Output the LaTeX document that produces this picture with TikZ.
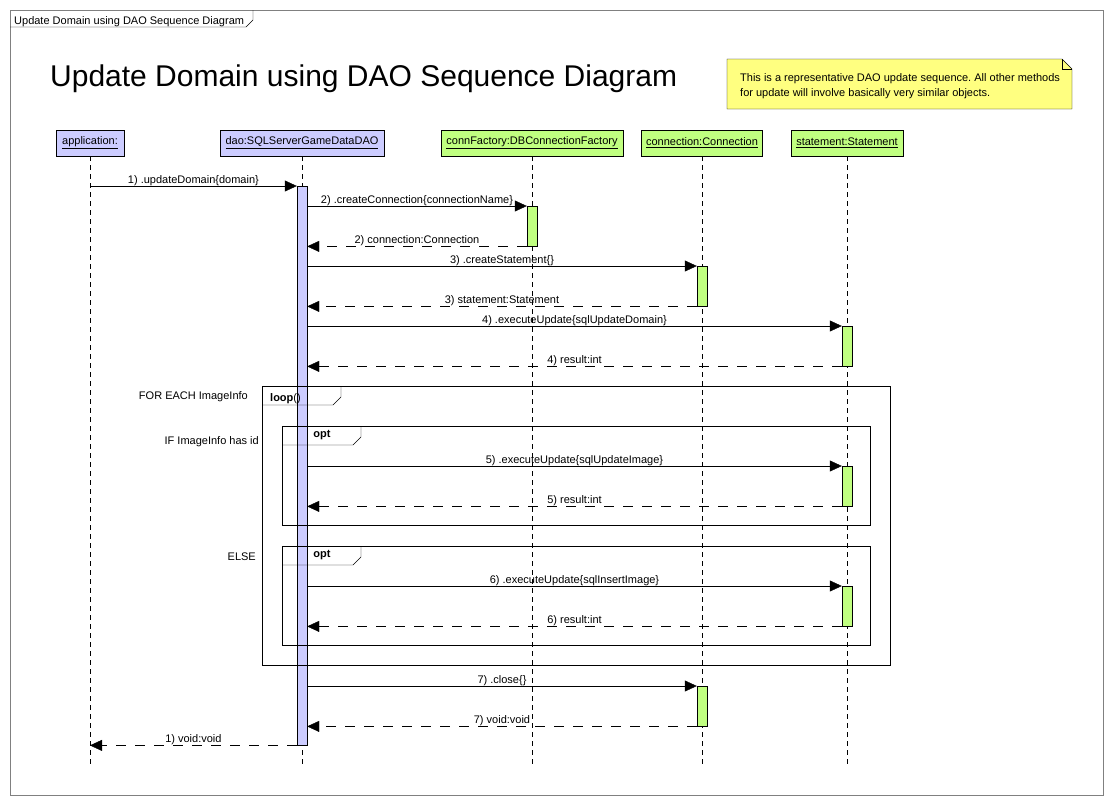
\documentclass[tikz,border=0pt]{standalone}
\usepackage{fontspec}
\setmainfont{Liberation Sans}
\usetikzlibrary{arrows.meta}
\definecolor{bleuobj}{RGB}{204,204,255}
\definecolor{vertobj}{RGB}{192,255,128}
\definecolor{jaunenote}{RGB}{255,255,128}
\definecolor{griscadre}{RGB}{128,128,128}

\begin{document}
\begin{tikzpicture}[x=1pt, y=-1pt]
\tikzset{objet/.style={draw, minimum height=26pt, inner sep=0pt, font=\fontsize{11}{13}\selectfont},
  vie/.style={dash pattern=on 5pt off 4pt},
  actif/.style={draw, anchor=north, minimum width=10pt, inner sep=0pt},
  appel/.style={-{Triangle[length=12pt,width=11pt]}},
  retour/.style={-{Triangle[length=12pt,width=11pt]}, dash pattern=on 10pt off 9pt},
  msg/.style={anchor=base, yshift=3pt, inner sep=0pt, font=\fontsize{11}{13}\selectfont},
  garde/.style={anchor=east, inner sep=0pt, font=\fontsize{11}{13}\selectfont},
  texte/.style={anchor=base west, inner sep=0pt, font=\fontsize{11}{13}\selectfont}}
\fill[white] (0,0) rectangle (1113,806);
\useasboundingbox (0,0) rectangle (1113,806);
% cadre du diagramme
\draw[griscadre] (10,10) rectangle (1103,795);
\draw (10,27) -- (246,27) -- (253,20) -- (253,10);
\node[texte] (onglet) at (14,24) {Update Domain using DAO Sequence Diagram};
\node[anchor=base west, inner sep=0pt, font=\fontsize{30}{36}\selectfont] (titre) at (50,86) {Update Domain using DAO Sequence Diagram};
% note
\filldraw[fill=jaunenote] (727,59) -- (1062,59) -- (1072,69) -- (1072,109) -- (727,109) -- cycle;
\draw (1062,59) -- (1062,69) -- (1072,69);
\node[anchor=base west, align=left, inner sep=0pt, font=\fontsize{11}{15}\selectfont] (note) at (740,96) {This is a representative DAO update sequence.\ All other methods\\for update will involve basically very similar objects.};
% objets et lignes de vie
\node[objet, fill=bleuobj, minimum width=68pt] (app) at (90,143) {\underline{application:}};
\node[objet, fill=bleuobj, minimum width=164pt] (dao) at (302,143) {\underline{dao:SQLServerGameDataDAO}};
\node[objet, fill=vertobj, minimum width=182pt] (fab) at (532,143) {\underline{connFactory:DBConnectionFactory}};
\node[objet, fill=vertobj, minimum width=121pt] (cnx) at (702,143) {\underline{connection:Connection}};
\node[objet, fill=vertobj, minimum width=112pt] (req) at (847,143) {\underline{statement:Statement}};
\coordinate (appfin) at (90,765);
\coordinate (daofin) at (302,765);
\coordinate (fabfin) at (532,765);
\coordinate (cnxfin) at (702,765);
\coordinate (reqfin) at (847,765);
\draw[vie] (app) -- (appfin);
\draw[vie] (dao) -- (daofin);
\draw[vie] (fab) -- (fabfin);
\draw[vie] (cnx) -- (cnxfin);
\draw[vie] (req) -- (reqfin);
% activations
\node[actif, fill=bleuobj, minimum height=559pt] (daoact) at (302,186) {};
\node[actif, fill=vertobj, minimum height=40pt] (fabact) at (532,206) {};
\node[actif, fill=vertobj, minimum height=40pt] (cnxact1) at (702,266) {};
\node[actif, fill=vertobj, minimum height=40pt] (reqact1) at (847,326) {};
\node[actif, fill=vertobj, minimum height=40pt] (reqact2) at (847,466) {};
\node[actif, fill=vertobj, minimum height=40pt] (reqact3) at (847,586) {};
\node[actif, fill=vertobj, minimum height=40pt] (cnxact2) at (702,686) {};
% fragments
\draw (262,386) rectangle (890,665);
\draw (262,405) -- (333,405) -- (341,397) -- (341,386);
\node[texte] (boucle) at (270,401) {\textbf{loop}()};
\node[garde] (pourchaque) at (248,397) {FOR EACH ImageInfo};
\draw (282,426) rectangle (870,525);
\draw (282,445) -- (353,445) -- (361,437) -- (361,426);
\node[texte, anchor=base] (opt1) at (322,437) {\textbf{opt}};
\node[garde] (si) at (259,442) {IF ImageInfo has id};
\draw (282,546) rectangle (870,645);
\draw (282,565) -- (353,565) -- (361,557) -- (361,546);
\node[texte, anchor=base] (opt2) at (322,557) {\textbf{opt}};
\node[garde] (sinon) at (256,557) {ELSE};
% messages
\draw[appel] (app.south |- daoact.north) -- (daoact.north west) node[msg, midway] {1) .updateDomain\{domain\}};
\draw[appel] (daoact.east |- fabact.north) -- (fabact.north west) node[msg, midway] {2) .createConnection\{connectionName\}};
\draw[retour] (fabact.south west) -- (daoact.east |- fabact.south) node[msg, midway] {2) connection:Connection};
\draw[appel] (daoact.east |- cnxact1.north) -- (cnxact1.north west) node[msg, midway] {3) .createStatement\{\}};
\draw[retour] (cnxact1.south west) -- (daoact.east |- cnxact1.south) node[msg, midway] {3) statement:Statement};
\draw[appel] (daoact.east |- reqact1.north) -- (reqact1.north west) node[msg, midway] {4) .executeUpdate\{sqlUpdateDomain\}};
\draw[retour] (reqact1.south west) -- (daoact.east |- reqact1.south) node[msg, midway] {4) result:int};
\draw[appel] (daoact.east |- reqact2.north) -- (reqact2.north west) node[msg, midway] {5) .executeUpdate\{sqlUpdateImage\}};
\draw[retour] (reqact2.south west) -- (daoact.east |- reqact2.south) node[msg, midway] {5) result:int};
\draw[appel] (daoact.east |- reqact3.north) -- (reqact3.north west) node[msg, midway] {6) .executeUpdate\{sqlInsertImage\}};
\draw[retour] (reqact3.south west) -- (daoact.east |- reqact3.south) node[msg, midway] {6) result:int};
\draw[appel] (daoact.east |- cnxact2.north) -- (cnxact2.north west) node[msg, midway] {7) .close\{\}};
\draw[retour] (cnxact2.south west) -- (daoact.east |- cnxact2.south) node[msg, midway] {7) void:void};
\draw[retour] (daoact.south west) -- (app.south |- daoact.south) node[msg, midway] {1) void:void};
\end{tikzpicture}
\end{document}
